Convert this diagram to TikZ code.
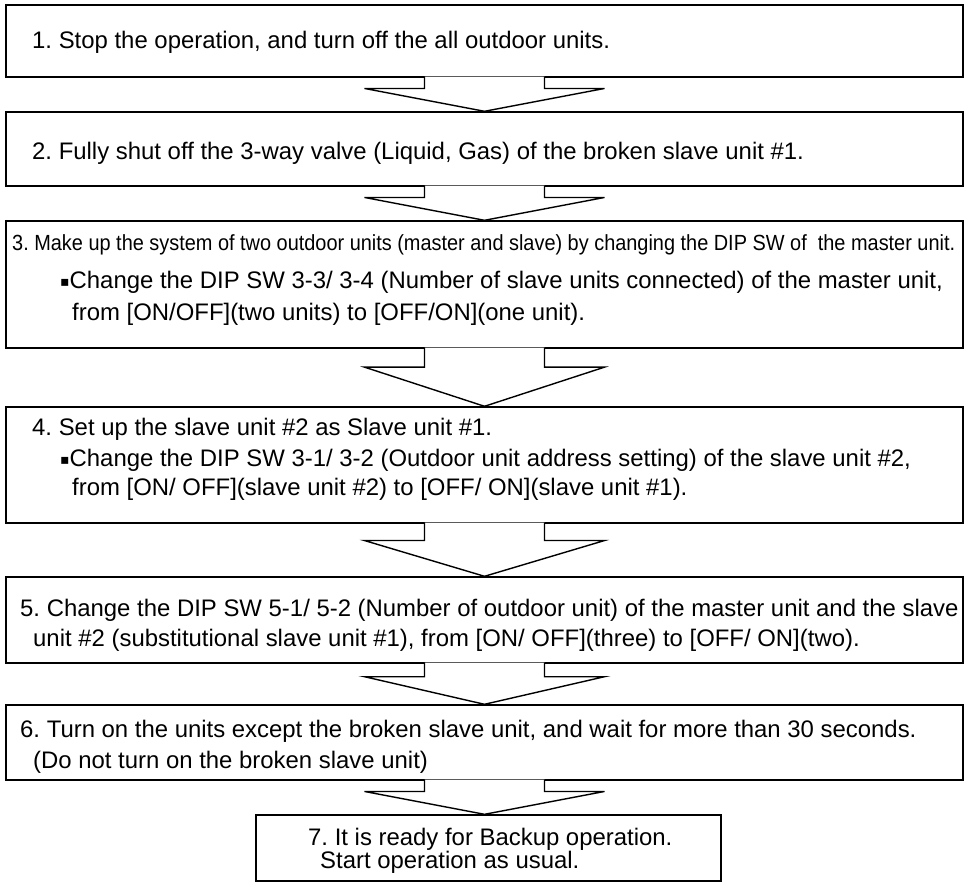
\documentclass[tikz,border=0pt]{standalone}
\usepackage{fontspec}
\setmainfont{Liberation Sans}
\newfontfamily\symfont{DejaVu Sans}
\usetikzlibrary{calc}
\frenchspacing
\tikzset{
  stepbox/.style={draw, line width=1.4bp, inner sep=0pt},
  steptext/.style={anchor=base west, inner sep=0pt, font=\fontsize{24}{28}\selectfont},
  arrowline/.style={draw, fill=white, line width=1.4bp, line join=miter},
}
% block arrow from the bottom of one box to the top of the next
\newcommand{\blockarrow}[2]{%
  \path[arrowline] let \p1=(#1.south), \p2=(#2.north), \p3=($(#1.south)!0.32!(#2.north)$) in
    (\x1-60bp,\y1+1bp) -- (\x1-60bp,\y3) -- (\x1-120bp,\y3) -- (\x1,\y2)
    -- (\x1+120bp,\y3) -- (\x1+60bp,\y3) -- (\x1+60bp,\y1+1bp);}
\newcommand{\squeeze}[2]{\resizebox{#1}{\height}{#2}}
\newcommand{\dotmark}{{\symfont\fontsize{14}{14}\selectfont\raisebox{2bp}{▪}}}
\begin{document}
\begin{tikzpicture}[x=1bp, y=-1bp]
  \useasboundingbox (0,0) rectangle (967,882);
  % boxes
  \node[stepbox, minimum width=957bp, minimum height=72bp]  (box1) at (484.5,41) {};
  \node[stepbox, minimum width=957bp, minimum height=74bp]  (box2) at (484.5,149) {};
  \node[stepbox, minimum width=957bp, minimum height=127bp] (box3) at (484.5,284.5) {};
  \node[stepbox, minimum width=957bp, minimum height=116bp] (box4) at (484.5,465) {};
  \node[stepbox, minimum width=957bp, minimum height=86bp]  (box5) at (484.5,620) {};
  \node[stepbox, minimum width=957bp, minimum height=75bp]  (box6) at (484.5,742.5) {};
  \node[stepbox, minimum width=465bp, minimum height=66bp]  (box7) at (488.5,848) {};
  % texts
  \node[steptext] (t1) at (32,48) {1. Stop the operation, and turn off the all outdoor units.};
  \node[steptext] (t2) at (32,159) {2. Fully shut off the 3-way valve (Liquid, Gas) of the broken slave unit \#1.};
  \node[steptext, font=\fontsize{22}{26}\selectfont] (t3a) at (12,250) {\squeeze{943bp}{3. Make up the system of two outdoor units (master and slave) by changing the DIP SW of \ the master unit.}};
  \node[steptext] (t3b) at (60,288) {\dotmark Change the DIP SW 3-3/ 3-4 (Number of slave units connected) of the master unit,};
  \node[steptext] (t3c) at (72,320) {from [ON/OFF](two units) to [OFF/ON](one unit).};
  \node[steptext] (t4a) at (32,435) {4. Set up the slave unit \#2 as Slave unit \#1.};
  \node[steptext] (t4b) at (60,466) {\dotmark Change the DIP SW 3-1/ 3-2 (Outdoor unit address setting) of the slave unit \#2,};
  \node[steptext] (t4c) at (72,495) {from [ON/ OFF](slave unit \#2) to [OFF/ ON](slave unit \#1).};
  \node[steptext] (t5a) at (20,616) {5. Change the DIP SW 5-1/ 5-2 (Number of outdoor unit) of the master unit and the slave};
  \node[steptext] (t5b) at (33,646) {unit \#2 (substitutional slave unit \#1), from [ON/ OFF](three) to [OFF/ ON](two).};
  \node[steptext] (t6a) at (20,737) {6. Turn on the units except the broken slave unit, and wait for more than 30 seconds.};
  \node[steptext] (t6b) at (33,768) {(Do not turn on the broken slave unit)};
  \node[steptext] (t7a) at (308,845) {7. It is ready for Backup operation.};
  \node[steptext] (t7b) at (320,868) {Start operation as usual.};
  % arrows
  \blockarrow{box1}{box2}
  \blockarrow{box2}{box3}
  \blockarrow{box3}{box4}
  \blockarrow{box4}{box5}
  \blockarrow{box5}{box6}
  \blockarrow{box6}{box7}
\end{tikzpicture}
\end{document}
